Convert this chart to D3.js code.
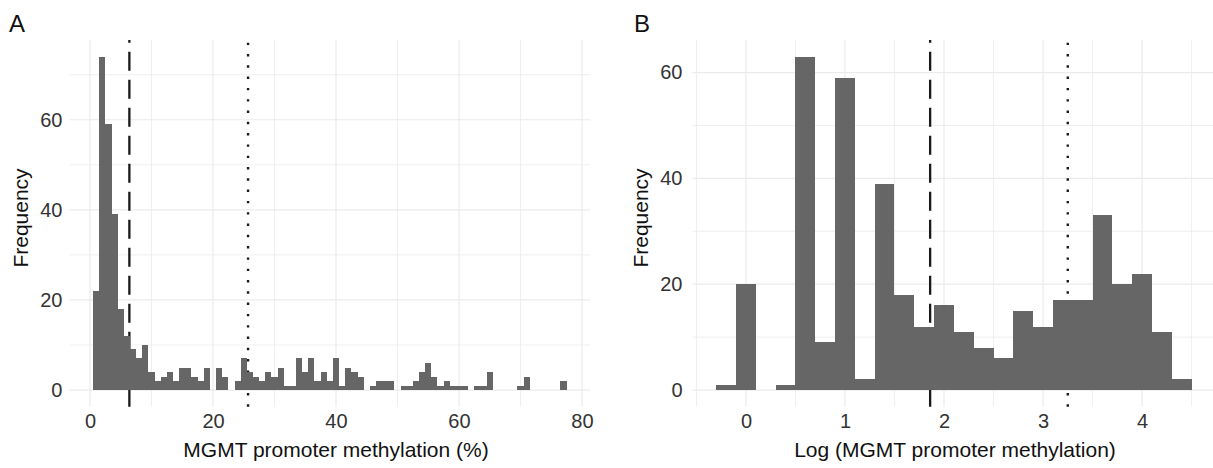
<!DOCTYPE html>
<html>
<head>
<meta charset="utf-8">
<script src="https://cdnjs.cloudflare.com/ajax/libs/d3/7.8.5/d3.min.js"></script>
<style>
	body { margin: 0; background: #fff; }
	svg { display: block; font-family: "Liberation Sans", Arial, sans-serif; }
</style>
</head>
<body>
<svg id="chart" width="1213" height="468"></svg>
<script>
"use strict";

// panel A - MGMT methylation (%), one bar per 1% (bin centres)
var methylBins = [1,2,3,4,5,6,7,8,9,10,11,12,13,14,15,16,17,18,19,20,
	21,22,23,24,25,26,27,28,29,30,31,32,33,34,35,36,37,38,39,40,
	41,42,43,44,45,46,47,48,49,50,51,52,53,54,55,56,57,58,59,60,
	61,62,63,64,65,66,67,68,69,70,71,72,73,74,75,76,77];
var methylCounts = [22,74,59,39,18,12,9,7,10,4, 2,3,4,2,5,5,3,2,5,0,
	5,3,0,2,7,4,3,2,4,3, 5,1,1,7,4,7,2,4,2,7,
	1,5,4,3,0,1,2,2,2,0, 1,1,2,4,6,3,1,2,1,1,
	1,0,1,1,4,0,0,0,0,1, 3,0,0,0,0,0,2];
var methylTicksX = [0, 20, 40, 60, 80];
var methylTicksY = [0, 20, 40, 60];
var methylCuts = [6.4, 25.7]; // dashed, dotted

// panel B - log of the same values, bins of 0.2
var logBins = [-0.2,0,0.2,0.4,0.6,0.8,1,1.2,1.4,1.6,1.8,2,2.2,2.4,2.6,2.8,3,3.2,3.4,3.6,3.8,4,4.2,4.4];
var logCounts = [1,20,0,1,63,9,59,2,39,18,12,16,11,8,6,15,12,17,17,33,20,22,11,2];
var logTicksX = [0, 1, 2, 3, 4];
var logTicksY = [0, 20, 40, 60];
var logCuts = [1.86, 3.25];

var Hist = (function(){
	var grid = "#ebebeb",
		barFill = "#666666",
		ink = "#1a1a1a";

	function gridLines(g, vals, x, y, o, vertical, w) {
		g.selectAll(null)
			.data(vals)
			.enter()
			.append("line")
			.attr("x1", function(d) { return vertical ? x(d) : o.left; })
			.attr("x2", function(d) { return vertical ? x(d) : o.right; })
			.attr("y1", function(d) { return vertical ? o.top : y(d); })
			.attr("y2", function(d) { return vertical ? o.bottom : y(d); })
			.attr("stroke", grid)
			.attr("stroke-width", w);
	}

	function draw(svg, o) {
		var x = d3.scaleLinear().domain(o.xDomain).range([o.left, o.right]),
			y = d3.scaleLinear().domain(o.yDomain).range([o.bottom, o.top]);
		var g = svg.append("g");

		gridLines(g, o.xMinor, x, y, o, true, 0.8);
		gridLines(g, o.yMinor, x, y, o, false, 0.8);
		gridLines(g, o.xTicks, x, y, o, true, 1.2);
		gridLines(g, o.yTicks, x, y, o, false, 1.2);

		// cut-off lines sit behind the bars
		g.append("line")
			.attr("x1", x(o.cuts[0])).attr("x2", x(o.cuts[0]))
			.attr("y1", o.bottom).attr("y2", o.top)
			.attr("stroke", ink).attr("stroke-width", 2.3)
			.attr("stroke-dasharray", "19,9");
		g.append("line")
			.attr("x1", x(o.cuts[1])).attr("x2", x(o.cuts[1]))
			.attr("y1", o.bottom).attr("y2", o.top)
			.attr("stroke", ink).attr("stroke-width", 2.4)
			.attr("stroke-dasharray", "2.4,8.9");

		g.selectAll("rect")
			.data(o.bins.map(function(b, i) { return {c: b, n: o.counts[i]}; })
				.filter(function(d) { return d.n > 0; }))
			.enter()
			.append("rect")
			.attr("x", function(d) { return x(d.c - o.half); })
			.attr("width", function(d) { return x(d.c + o.half) - x(d.c - o.half); })
			.attr("y", function(d) { return y(d.n); })
			.attr("height", function(d) { return y(0) - y(d.n); })
			.attr("fill", barFill)
			.attr("shape-rendering", "crispEdges");

		var ax = svg.append("g")
			.attr("transform", "translate(0," + o.bottom + ")")
			.call(d3.axisBottom(x).tickValues(o.xTicks).tickFormat(d3.format("~g"))
				.tickSize(0).tickPadding(7));
		var ay = svg.append("g")
			.attr("transform", "translate(" + o.left + ",0)")
			.call(d3.axisLeft(y).tickValues(o.yTicks).tickFormat(d3.format("~g"))
				.tickSize(0).tickPadding(o.padY));
		[ax, ay].forEach(function(a) {
			a.select(".domain").remove();
			a.attr("font-family", null).attr("font-size", null);
			a.selectAll("text").attr("fill", "#333").style("font-size", "20px");
		});

		svg.append("text")
			.attr("x", o.titleX).attr("y", 457)
			.attr("text-anchor", "middle")
			.style("font-size", "21px")
			.attr("fill", "#111")
			.text(o.xTitle);
		svg.append("text")
			.attr("transform", "translate(" + o.yTitleX + ",218) rotate(-90)")
			.attr("text-anchor", "middle")
			.style("font-size", "21px")
			.attr("fill", "#111")
			.text("Frequency");
		svg.append("text")
			.attr("x", o.tagX).attr("y", 32)
			.style("font-size", "24px")
			.attr("fill", "#111")
			.text(o.tag);
	}

	return {
		"draw": draw
	};
}());

var svg = d3.select("#chart");

Hist.draw(svg, {
	tag: "A", tagX: 9,
	left: 69.4, right: 590.3, top: 40, bottom: 406.7,
	xDomain: [-3.35, 81.35], yDomain: [-3.7, 77.7],
	xTicks: methylTicksX, xMinor: [10, 30, 50, 70],
	yTicks: methylTicksY, yMinor: [10, 30, 50, 70],
	bins: methylBins, counts: methylCounts, half: 0.5,
	cuts: methylCuts, padY: 7,
	xTitle: "MGMT promoter methylation (%)", titleX: 336, yTitleX: 28
});

Hist.draw(svg, {
	tag: "B", tagX: 634,
	left: 692.5, right: 1215.3, top: 40, bottom: 406.7,
	xDomain: [-0.54, 4.74], yDomain: [-3.15, 66.15],
	xTicks: logTicksX, xMinor: [-0.5, 0.5, 1.5, 2.5, 3.5, 4.5],
	yTicks: logTicksY, yMinor: [10, 30, 50],
	bins: logBins, counts: logCounts, half: 0.1,
	cuts: logCuts, padY: 10,
	xTitle: "Log (MGMT promoter methylation)", titleX: 955, yTitleX: 648
});
</script>
</body>
</html>
